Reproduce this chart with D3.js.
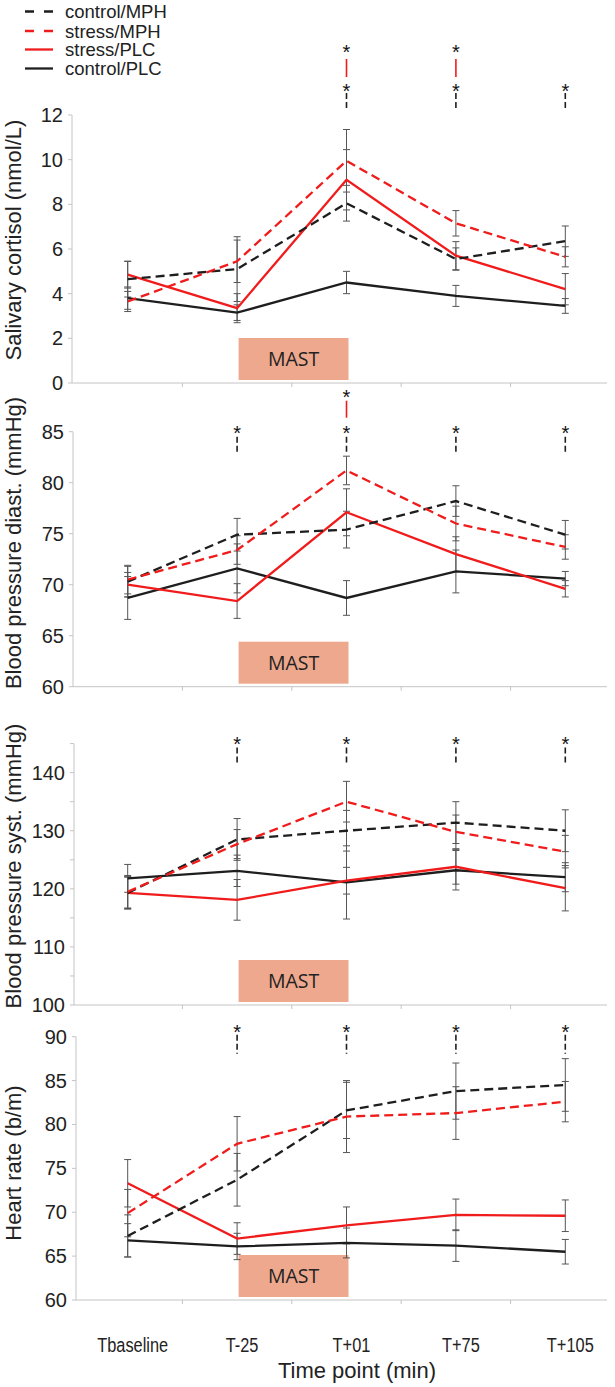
<!DOCTYPE html>
<html><head><meta charset="utf-8">
<script src="https://cdn.jsdelivr.net/npm/d3@7"></script>
<style>body{margin:0;background:#fff}svg{display:block}text{font-family:"Liberation Sans",Arial,sans-serif;fill:#222}</style>
</head><body><svg id="c" width="615" height="1387"></svg>
<script>
// ---------- data ----------
const timepoints = ["Tbaseline", "T-25", "T+01", "T+75", "T+105"];
const groups = ["control/MPH", "stress/MPH", "stress/PLC", "control/PLC"];

// rows follow `groups`
const cortisolMean = [
  [4.65, 5.1, 8.05, 5.55, 6.35],
  [3.65, 5.45, 9.95, 7.15, 5.65],
  [4.85, 3.35, 9.1, 5.7, 4.2],
  [3.8, 3.15, 4.5, 3.9, 3.45]
];
const cortisolErr = [
  [0.8, 1.45, 0.8, 0.5, 0.68],
  [0.45, 0.95, 1.4, 0.57, 0.45],
  [0.6, 0.65, 1.35, 0.63, 0.7],
  [0.5, 0.35, 0.5, 0.47, 0.33]
];
const diastMean = [
  [70.3, 74.9, 75.4, 78.2, 74.9],
  [70.5, 73.4, 81.2, 76.0, 73.7],
  [70.0, 68.4, 77.1, 73.0, 69.6],
  [68.7, 71.6, 68.7, 71.3, 70.6]
];
const diastErr = [
  [1.5, 1.6, 1.8, 1.5, 1.4],
  [1.4, 1.4, 1.4, 1.7, 1.2],
  [1.2, 1.7, 2.3, 1.7, 0.8],
  [2.1, 2.4, 1.7, 2.1, 0.7]
];
const systMean = [
  [119.3, 128.5, 130.0, 131.4, 130.0],
  [119.5, 127.7, 135.0, 129.8, 126.4],
  [119.3, 118.1, 121.4, 123.8, 120.1],
  [121.8, 123.1, 121.1, 123.2, 122.0]
];
const systErr = [
  [2.8, 3.6, 3.5, 3.6, 3.6],
  [2.8, 2.5, 3.5, 2.9, 2.8],
  [2.7, 3.5, 2.3, 3.0, 3.9],
  [2.4, 2.7, 6.3, 3.4, 2.5]
];
const hrMean = [
  [67.3, 73.7, 81.6, 83.8, 84.5],
  [69.9, 77.8, 80.9, 81.3, 82.6],
  [73.3, 67.0, 68.5, 69.7, 69.6],
  [66.8, 66.1, 66.5, 66.2, 65.5]
];
const hrErr = [
  [2.4, 3.0, 3.2, 3.2, 3.0],
  [2.7, 3.1, 4.1, 3.0, 2.3],
  [2.7, 1.8, 2.1, 1.8, 1.8],
  [1.9, 1.5, 1.7, 1.8, 1.4]
];

const cortisolTicks = [0, 2, 4, 6, 8, 10, 12];
const diastTicks = [60, 65, 70, 75, 80, 85];
const systTicks = [100, 110, 120, 130, 140];
const systMinorTicks = [100, 105, 110, 115, 120, 125, 130, 135, 140, 145];
const hrTicks = [60, 65, 70, 75, 80, 85, 90];

// significance markers (time points)
const cortisolSigMPH = ["T+01", "T+75", "T+105"];
const cortisolSigStress = ["T+01", "T+75"];
const diastSigMPH = ["T-25", "T+01", "T+75", "T+105"];
const diastSigStress = ["T+01"];
const systSigMPH = ["T-25", "T+01", "T+75", "T+105"];
const hrSigMPH = ["T-25", "T+01", "T+75", "T+105"];

const yLabels = ["Salivary cortisol (nmol/L)", "Blood pressure diast. (mmHg)", "Blood pressure syst. (mmHg)", "Heart rate (b/m)"];
const xTitle = "Time point (min)";
const boxLabel = "MAST";
const boxSpan = ["T-25", "T+01"];

// ---------- styles / layout ----------
const RED = "#f01c1c", BLACK = "#1e1e1e";
const gColor = [BLACK, RED, RED, BLACK];
const gDash = ["9,5", "9,5", null, null];
const AX = "#c4c4c4";

const panels = [
  {mean: cortisolMean, err: cortisolErr, domain: [0, 12], ticks: cortisolTicks, minor: cortisolTicks,
   top: 115, bottom: 383, axX: 72, labelY: 240, sigB: cortisolSigMPH, sigR: cortisolSigStress,
   sb: {star: -28, d0: -22, d1: -5}, sr: {star: -67, d0: -56, d1: -38}},
  {mean: diastMean, err: diastErr, domain: [60, 85], ticks: diastTicks, minor: diastTicks,
   top: 431.7, bottom: 686.7, axX: 73, labelY: 543, sigB: diastSigMPH, sigR: diastSigStress,
   sb: {star: -3, d0: 5, d1: 22}, sr: {star: -39, d0: -31, d1: -14}},
  {mean: systMean, err: systErr, domain: [100, 145], ticks: systTicks, minor: systMinorTicks,
   top: 743.6, bottom: 1005, axX: 74, labelY: 866, sigB: systSigMPH, sigR: [],
   sb: {star: -4, d0: 4, d1: 22}, sr: null},
  {mean: hrMean, err: hrErr, domain: [60, 90], ticks: hrTicks, minor: hrTicks,
   top: 1036.7, bottom: 1300, axX: 76, labelY: 1163, sigB: hrSigMPH, sigR: [],
   sb: {star: -9, d0: -2, d1: 17}, sr: null}
];

const svg = d3.select("#c");
const x = d3.scaleBand().domain(timepoints).range([73, 620]);
const cx = t => x(t) + x.bandwidth() / 2;
const xRightEnd = 607;

function star(g, xx, yy) {
  g.append("text").attr("x", xx).attr("y", yy + 11).attr("text-anchor", "middle")
    .style("font-size", "20px").style("fill", "#111").text("*");
}

panels.forEach((p, pi) => {
  const y = d3.scaleLinear().domain(p.domain).range([p.bottom, p.top]);
  const g = svg.append("g");

  // MAST box
  const bx0 = cx(boxSpan[0]) + 1.5, bx1 = cx(boxSpan[1]) + 2;
  g.append("rect").attr("x", bx0).attr("y", p.bottom - 45).attr("width", bx1 - bx0).attr("height", 42)
    .attr("fill", "#eea88e");
  g.append("text").attr("x", (bx0 + bx1) / 2).attr("y", p.bottom - 17).attr("text-anchor", "middle")
    .style("font-family", "'Open Sans', sans-serif").style("font-size", "19.5px").text(boxLabel);

  // y axis
  g.append("line").attr("x1", p.axX).attr("x2", p.axX).attr("y1", p.top).attr("y2", p.bottom).attr("stroke", AX);
  g.selectAll(".mt").data(p.minor).join("line").attr("x1", p.axX - 4).attr("x2", p.axX)
    .attr("y1", d => y(d)).attr("y2", d => y(d)).attr("stroke", AX);
  g.selectAll(".tl").data(p.ticks).join("text").attr("x", p.axX - 9).attr("y", d => y(d) + 7)
    .attr("text-anchor", "end").style("font-size", "20px").text(d => d);

  // x axis
  g.append("line").attr("x1", p.axX).attr("x2", xRightEnd).attr("y1", p.bottom).attr("y2", p.bottom).attr("stroke", AX);
  g.selectAll(".xt").data(timepoints.slice(1)).join("line")
    .attr("x1", d => x(d)).attr("x2", d => x(d)).attr("y1", p.bottom).attr("y2", p.bottom + 4).attr("stroke", AX);

  // y label
  g.append("text").attr("transform", `translate(21,${p.labelY}) rotate(-90)`).attr("text-anchor", "middle")
    .style("font-size", "22px").text(yLabels[pi]);

  // error bars
  p.mean.forEach((row, gi) => {
    row.forEach((v, ti) => {
      const e = p.err[gi][ti], xx = cx(timepoints[ti]);
      const y0 = y(v - e), y1 = y(v + e);
      g.append("line").attr("x1", xx).attr("x2", xx).attr("y1", y0).attr("y2", y1).attr("stroke", "#555").attr("stroke-width", 1);
      [y0, y1].forEach(yy => g.append("line").attr("x1", xx - 3.5).attr("x2", xx + 3.5).attr("y1", yy).attr("y2", yy)
        .attr("stroke", "#555").attr("stroke-width", 1));
    });
  });

  // lines
  const line = d3.line().x((d, i) => cx(timepoints[i])).y(d => y(d));
  [3, 2, 0, 1].forEach(gi => {
    g.append("path").datum(p.mean[gi]).attr("d", line).attr("fill", "none")
      .attr("stroke", gColor[gi]).attr("stroke-width", 2.3)
      .attr("stroke-dasharray", gDash[gi]);
  });

  // significance markers
  p.sigB.forEach(t => {
    const xx = cx(t);
    star(g, xx, p.top + p.sb.star);
    g.append("line").attr("x1", xx).attr("x2", xx).attr("y1", p.top + p.sb.d0).attr("y2", p.top + p.sb.d1)
      .attr("stroke", BLACK).attr("stroke-width", 1.6).attr("stroke-dasharray", "6,3");
  });
  p.sigR.forEach(t => {
    const xx = cx(t);
    star(g, xx, p.top + p.sr.star);
    g.append("line").attr("x1", xx).attr("x2", xx).attr("y1", p.top + p.sr.d0).attr("y2", p.top + p.sr.d1)
      .attr("stroke", RED).attr("stroke-width", 1.6);
  });

  if (pi === panels.length - 1) {
    svg.selectAll(".xl").data(timepoints).join("text")
      .attr("transform", d => `translate(${cx(d) + 5},1352) scale(0.84,1)`)
      .attr("text-anchor", "middle").style("font-size", "19.5px").text(d => d);
    svg.append("text").attr("x", 357).attr("y", 1378).attr("text-anchor", "middle")
      .style("font-size", "22px").text(xTitle);
  }
});

// legend
const legY = [11.5, 31, 49.5, 68.5];
const leg = svg.append("g");
groups.forEach((name, gi) => {
  leg.append("line").attr("x1", 25).attr("x2", 53).attr("y1", legY[gi]).attr("y2", legY[gi])
    .attr("stroke", gColor[gi]).attr("stroke-width", 2.3).attr("stroke-dasharray", gDash[gi] ? "9,10" : null);
  leg.append("text").attr("x", 65).attr("y", legY[gi] + 6.5).style("font-size", "18.5px").text(name);
});
</script></body></html>
